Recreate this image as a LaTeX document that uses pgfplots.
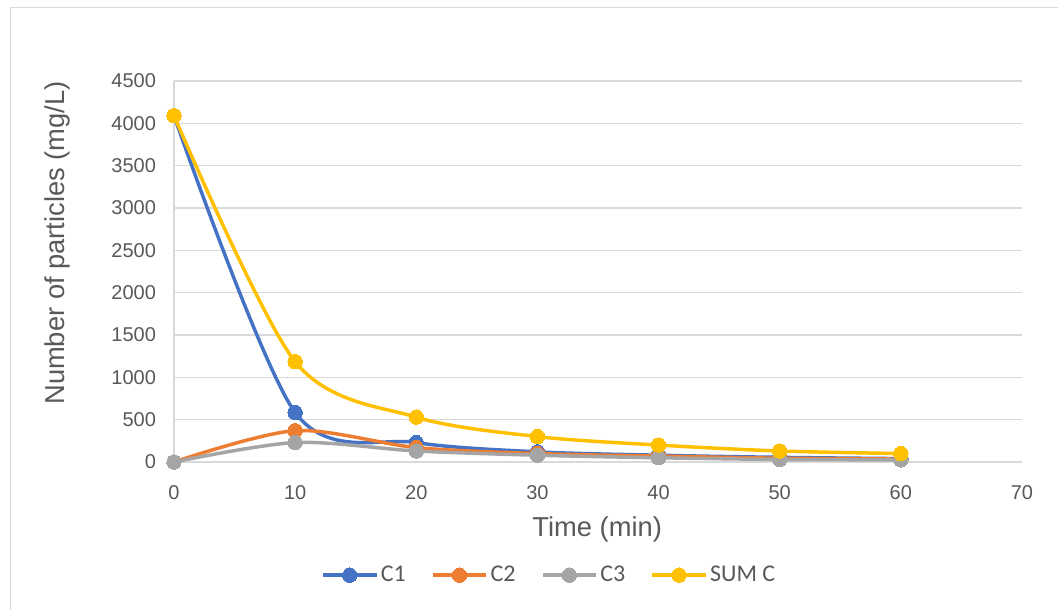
\documentclass[border=0pt]{standalone}
\usepackage{fontspec}
\setmainfont{Liberation Sans}
\newfontfamily\calibri{Carlito}
\usepackage{pgfplots}
\pgfplotsset{compat=1.18}
\definecolor{cA}{HTML}{4472C4}
\definecolor{cB}{HTML}{ED7D31}
\definecolor{cC}{HTML}{A5A5A5}
\definecolor{cD}{HTML}{FFC000}
\definecolor{gridc}{HTML}{D9D9D9}
\definecolor{txt}{HTML}{595959}
\begin{document}
\begin{tikzpicture}
\useasboundingbox (0pt,0pt) rectangle (793.5pt,-457.5pt);
\fill[white] (0pt,0pt) rectangle (793.5pt,-457.5pt);
\draw[gridc, line width=0.75pt] (7.5pt,-6pt) -- (793.5pt,-6pt);
\draw[gridc, line width=0.75pt] (7.5pt,-6pt) -- (7.5pt,-457.5pt);
\begin{axis}[
  at={(130.5pt,-346.5pt)}, anchor=south west,
  scale only axis, width=636pt, height=285.75pt,
  xmin=0, xmax=70, ymin=0, ymax=4500,
  xtick={0,10,...,70}, ytick={0,500,...,4500},
  axis x line*=bottom, axis y line*=left,
  axis line style={gridc, line width=0.9pt},
  x axis line style={-}, y axis line style={-},
  major tick length=0pt,
  ymajorgrids, grid style={gridc, line width=0.9pt},
  tick label style={font=\fontsize{15}{17}\selectfont, text=txt},
  /pgf/number format/assume math mode=true,
  /pgf/number format/1000 sep={},
  xticklabel style={yshift=-14pt},
  yticklabel style={xshift=-10pt},
  xlabel={Time (min)}, ylabel={Number of particles (mg/L)},
  label style={font=\fontsize{20.5}{23}\selectfont, text=txt},
  xlabel style={at={(axis description cs:0.499,-0.176)}, anchor=center},
  ylabel style={at={(axis description cs:-0.138,0.575)}, anchor=center, rotate=0},
  legend style={at={(axis description cs:0.443,-0.297)}, anchor=center, draw=none,
    font=\calibri\fontsize{18}{20}\selectfont, text=txt, legend columns=4,
    /tikz/every even column/.append style={column sep=17pt}},
  legend image code/.code={\draw[#1, mark repeat=2, mark phase=2] plot coordinates {(0pt,0pt) (20pt,0pt) (40pt,0pt)};},
  every axis plot/.append style={line width=2.6pt, smooth, tension=0.5, mark=*, mark size=5.4pt},
  clip=false,
]
\addplot[cA, mark options={fill=cA, draw=cA, line width=0pt}] coordinates {(0,4090) (10,585) (20,230) (30,120) (40,80) (50,55) (60,40)};
\addplot[cB, mark options={fill=cB, draw=cB, line width=0pt}] coordinates {(0,0) (10,370) (20,170) (30,100) (40,70) (50,45) (60,35)};
\addplot[cC, mark options={fill=cC, draw=cC, line width=0pt}] coordinates {(0,0) (10,230) (20,130) (30,80) (40,50) (50,30) (60,25)};
\addplot[cD, mark options={fill=cD, draw=cD, line width=0pt}] coordinates {(0,4090) (10,1185) (20,530) (30,300) (40,200) (50,130) (60,100)};
\legend{C1,C2,C3,SUM C}
\end{axis}
\end{tikzpicture}
\end{document}
